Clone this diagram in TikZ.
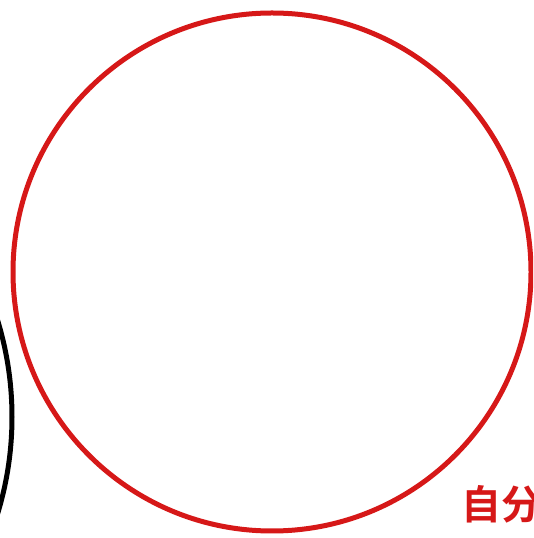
\documentclass[tikz,border=0pt]{standalone}
\usepackage{fontspec}
\newfontfamily\cjk{Noto Sans CJK SC Bold}
\definecolor{ringred}{RGB}{214,24,24}
\begin{document}
\begin{tikzpicture}[x=1pt,y=1pt,
  ring/.style={line width=5pt},
  label/.style={font=\cjk\fontsize{40}{40}\selectfont, text=ringred, inner sep=0pt}]
\useasboundingbox (0,0) rectangle (533,538);
\begin{scope}
\clip (0,0) rectangle (533,538);
% other person's circle, mostly off the left edge
\draw[ring, black] (-318,121) circle[radius=330];
% own circle
\draw[ring, ringred] (272,266) circle[radius=259];
% caption
\node[label, anchor=west] (self) at (461,34) {自分};
\end{scope}
\end{tikzpicture}
\end{document}
